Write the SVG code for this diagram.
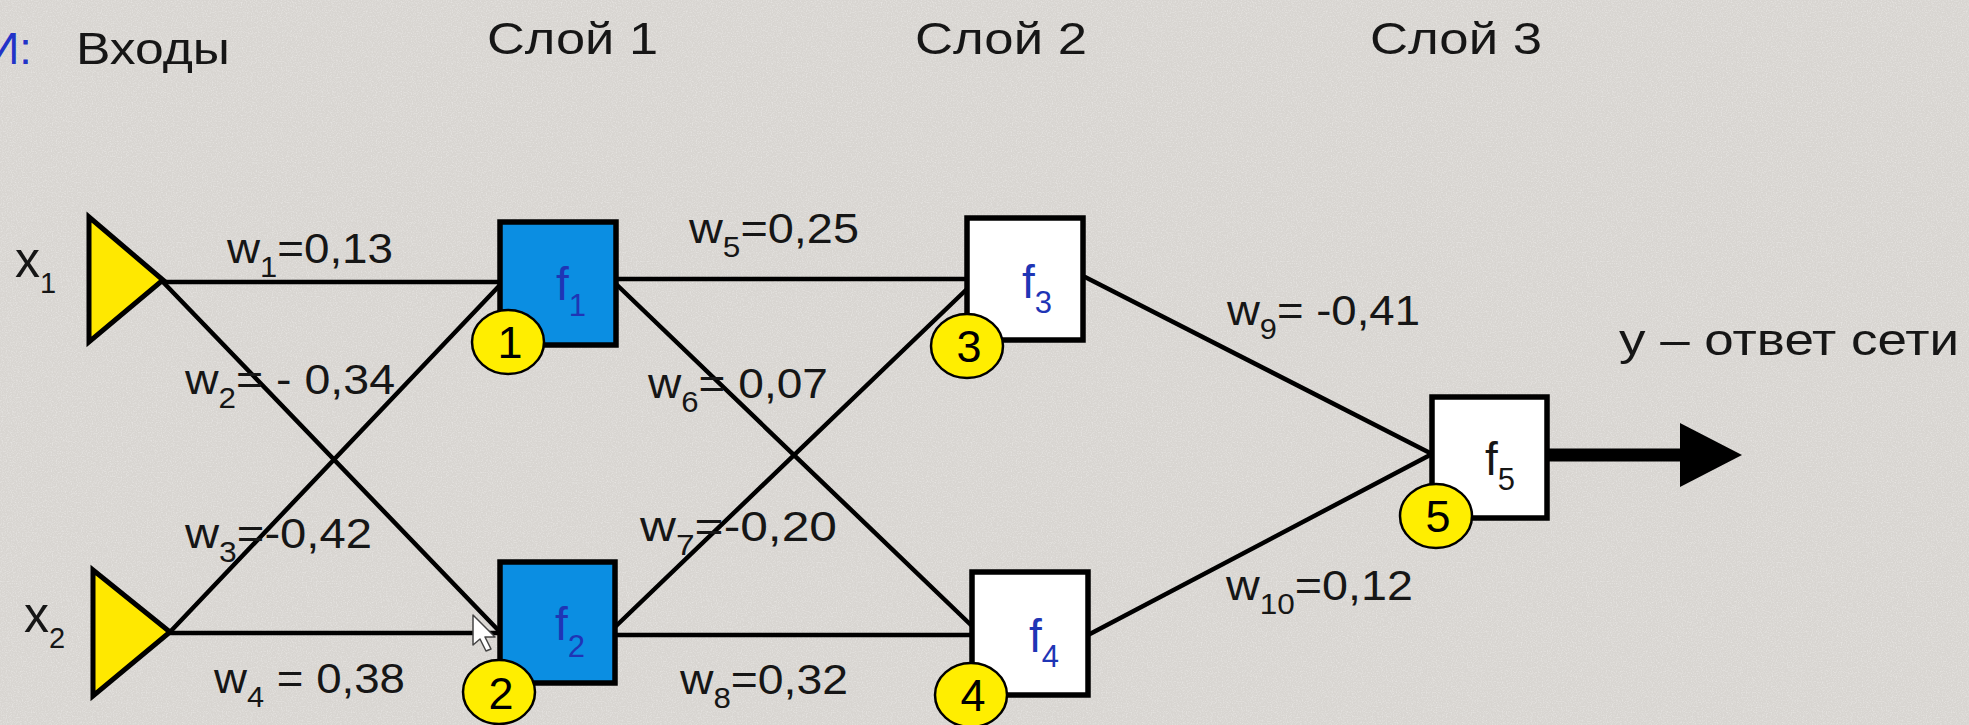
<svg xmlns="http://www.w3.org/2000/svg" width="1969" height="725" viewBox="0 0 1969 725">
<style>
text{font-family:"Liberation Sans",Arial,sans-serif}
.lbl{font-size:43px;fill:#161616}
.sub{font-size:29px}
.hdr{font-size:45px;fill:#161616}
.blueT{fill:#2233c8}
.xl{font-size:50px;fill:#161616}
.fn{font-size:46px;fill:#1f35b5}
.fk{fill:#161616}
.fs{font-size:31px}
.num{font-size:45px;fill:#000;text-anchor:middle}
.edge{stroke:#000;stroke-width:4.5;fill:none;stroke-linecap:round}
.box{stroke:#000;stroke-width:5.5}
.blue{fill:#0b8ee2}
.white{fill:#fff}
.badge{fill:#ffee00;stroke:#000;stroke-width:2.5}
.inp{fill:#ffe800;stroke:#000;stroke-width:5;stroke-linejoin:miter}
</style>
<defs>
<marker id="head" markerUnits="userSpaceOnUse" markerWidth="64" markerHeight="66" refX="0" refY="32" orient="auto">
<path d="M0,0 L62,32 L0,64 z" fill="#000"/>
</marker>
<filter id="grain" x="0" y="0" width="100%" height="100%">
<feTurbulence type="fractalNoise" baseFrequency="0.8" numOctaves="2" seed="7" result="n"/>
<feColorMatrix in="n" type="matrix" values="0 0 0 0 1  0 0 0 0 1  0 0 0 0 1  0 0 0 -2.2 1.25"/>
</filter>
</defs>
<rect x="0" y="0" width="1969" height="725" fill="#d8d5d1"/>
<rect x="0" y="0" width="1969" height="725" filter="url(#grain)" opacity="0.35"/>

<g id="headers">
<text class="hdr blueT" x="-13" y="64">И:</text>
<text class="hdr" x="76" y="64" textLength="154" lengthAdjust="spacingAndGlyphs">Входы</text>
<text class="hdr" x="487" y="54" textLength="171" lengthAdjust="spacingAndGlyphs">Слой 1</text>
<text class="hdr" x="915" y="54" textLength="172" lengthAdjust="spacingAndGlyphs">Слой 2</text>
<text class="hdr" x="1370" y="54" textLength="172" lengthAdjust="spacingAndGlyphs">Слой 3</text>
</g>

<g id="connectors">
<path class="edge" d="M163,282 L500,282"/>
<path class="edge" d="M163,282 L500,632"/>
<path class="edge" d="M170,632 L500,285"/>
<path class="edge" d="M170,633 L500,633"/>
<path class="edge" d="M616,279 L967,279"/>
<path class="edge" d="M616,284 L972,626"/>
<path class="edge" d="M615,627 L967,289"/>
<path class="edge" d="M615,635 L972,635"/>
<path class="edge" d="M1085,277 L1432,454"/>
<path class="edge" d="M1088,635 L1432,454"/>
<path d="M1547,455 L1680,455" stroke="#000" stroke-width="13" fill="none" marker-end="url(#head)"/>
</g>

<g id="weights">
<text class="lbl" x="227" y="263" textLength="166" lengthAdjust="spacingAndGlyphs">w<tspan class="sub" dy="14">1</tspan><tspan dy="-14">=0,13</tspan></text>
<text class="lbl" x="185" y="394" textLength="210" lengthAdjust="spacingAndGlyphs">w<tspan class="sub" dy="14">2</tspan><tspan dy="-14">= - 0,34</tspan></text>
<text class="lbl" x="185" y="548" textLength="187" lengthAdjust="spacingAndGlyphs">w<tspan class="sub" dy="14">3</tspan><tspan dy="-14">=-0,42</tspan></text>
<text class="lbl" x="214" y="693" textLength="191" lengthAdjust="spacingAndGlyphs">w<tspan class="sub" dy="14">4</tspan><tspan dy="-14"> = 0,38</tspan></text>
<text class="lbl" x="689" y="243" textLength="170" lengthAdjust="spacingAndGlyphs">w<tspan class="sub" dy="14">5</tspan><tspan dy="-14">=0,25</tspan></text>
<text class="lbl" x="648" y="398" textLength="180" lengthAdjust="spacingAndGlyphs">w<tspan class="sub" dy="14">6</tspan><tspan dy="-14">= 0,07</tspan></text>
<text class="lbl" x="640" y="541" textLength="197" lengthAdjust="spacingAndGlyphs">w<tspan class="sub" dy="14">7</tspan><tspan dy="-14">=-0,20</tspan></text>
<text class="lbl" x="680" y="694" textLength="168" lengthAdjust="spacingAndGlyphs">w<tspan class="sub" dy="14">8</tspan><tspan dy="-14">=0,32</tspan></text>
<text class="lbl" x="1227" y="325" textLength="193" lengthAdjust="spacingAndGlyphs">w<tspan class="sub" dy="14">9</tspan><tspan dy="-14">= -0,41</tspan></text>
<text class="lbl" x="1226" y="600" textLength="187" lengthAdjust="spacingAndGlyphs">w<tspan class="sub" dy="14">10</tspan><tspan dy="-14">=0,12</tspan></text>
</g>

<g id="in1">
<polygon class="inp" points="89,217 89,342 163,280"/>
<text class="xl" x="15" y="277">x<tspan class="sub" dy="16">1</tspan></text>
</g>
<g id="in2">
<polygon class="inp" points="93,570 93,696 170,632"/>
<text class="xl" x="24" y="632">x<tspan class="sub" dy="16">2</tspan></text>
</g>

<g id="n1">
<rect class="box blue" x="500" y="222" width="116" height="123"/>
<text class="fn" x="556" y="300">f<tspan class="fs" dy="16">1</tspan></text>
<ellipse class="badge" cx="508" cy="342" rx="36" ry="32"/>
<text class="num" x="510" y="358">1</text>
</g>
<g id="n2">
<rect class="box blue" x="500" y="562" width="115" height="121"/>
<text class="fn" x="555" y="640">f<tspan class="fs" dy="17">2</tspan></text>
<ellipse class="badge" cx="499" cy="692" rx="36" ry="32"/>
<text class="num" x="501" y="709">2</text>
</g>
<g id="n3">
<rect class="box white" x="967" y="218" width="116" height="122"/>
<text class="fn" x="1022" y="298">f<tspan class="fs" dy="15">3</tspan></text>
<ellipse class="badge" cx="967" cy="346" rx="36" ry="32"/>
<text class="num" x="969" y="362">3</text>
</g>
<g id="n4">
<rect class="box white" x="972" y="572" width="116" height="123"/>
<text class="fn" x="1029" y="652">f<tspan class="fs" dy="15">4</tspan></text>
<ellipse class="badge" cx="971" cy="695" rx="36" ry="32"/>
<text class="num" x="973" y="711">4</text>
</g>
<g id="n5">
<rect class="box white" x="1432" y="397" width="115" height="121"/>
<text class="fn fk" x="1485" y="475">f<tspan class="fs" dy="15">5</tspan></text>
<ellipse class="badge" cx="1436" cy="516" rx="36" ry="32"/>
<text class="num" x="1438" y="532">5</text>
</g>

<g id="output">
<text class="hdr" x="1619" y="355" textLength="340" lengthAdjust="spacingAndGlyphs">y – ответ сети</text>
</g>

<g id="cursor">
<polygon points="473,615 473,645 480,639 486,651 491,649 485,637 495,637" fill="#fff" stroke="#444" stroke-width="1.5" stroke-linejoin="round"/>
</g>
</svg>
